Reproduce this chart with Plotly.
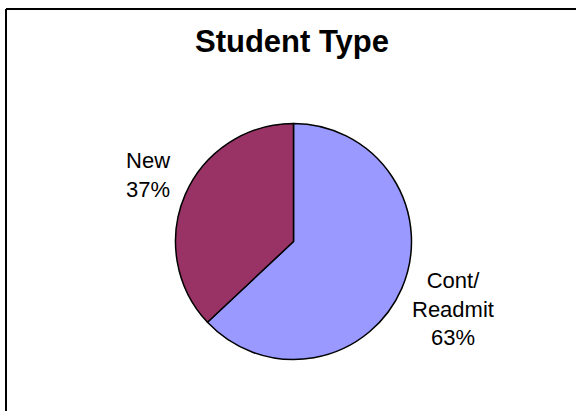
import math
import plotly.graph_objects as go

# Data
title_text = "Student Type"
categories = ["Cont/<br>Readmit", "New"]
values = [63, 37]
colors = ["#9999FF", "#993366"]

W, H = 576, 411
FONT = "Liberation Sans, Arial, sans-serif"

# Pie geometry in pixels
cx, cy, r = 293.5, 241.5, 118.0
label_k = [1.47, 1.34]
label_yshift = [1, 4]

fig = go.Figure(go.Pie(
    labels=categories,
    values=values,
    sort=False,
    direction="clockwise",
    rotation=0,
    marker=dict(colors=colors, line=dict(color="black", width=1.5)),
    textinfo="none",
    hoverinfo="label+percent",
    showlegend=False,
    domain=dict(x=[(cx - r) / W, (cx + r) / W],
                y=[1 - (cy + r) / H, 1 - (cy - r) / H]),
))

total = sum(values)
annotations = []
start = 0.0
for cat, v, k, ys in zip(categories, values, label_k, label_yshift):
    frac = v / total
    mid = (start + frac / 2) * 2 * math.pi
    start += frac
    px = cx + k * r * math.sin(mid)
    py = cy - k * r * math.cos(mid)
    annotations.append(dict(
        x=px / W, y=1 - py / H, xref="paper", yref="paper",
        text=f"{cat}<br>{round(frac * 100)}%",
        showarrow=False, xanchor="center", yanchor="middle", yshift=ys,
        font=dict(family=FONT, size=22, color="black"),
    ))

annotations.append(dict(
    x=292 / W, y=1 - 42 / H, xref="paper", yref="paper",
    text=f"<b>{title_text}</b>", showarrow=False,
    xanchor="center", yanchor="middle",
    font=dict(family=FONT, size=31, color="black"),
))

bx, by = 6 / W, 1 - 9 / H
fig.update_layout(
    width=W, height=H,
    margin=dict(l=0, r=0, t=0, b=0),
    paper_bgcolor="white",
    plot_bgcolor="white",
    annotations=annotations,
    shapes=[
        dict(type="line", xref="paper", yref="paper",
             x0=bx, y0=0, x1=bx, y1=by,
             line=dict(color="black", width=2)),
        dict(type="line", xref="paper", yref="paper",
             x0=bx, y0=by, x1=1, y1=by,
             line=dict(color="black", width=2)),
    ],
)

fig.write_html(
    "out.html",
    config={"displayModeBar": False},
    post_script=("document.documentElement.style.overflow='hidden';"
                 "document.body.style.margin='0';"
                 "document.body.style.overflow='hidden';"),
)
